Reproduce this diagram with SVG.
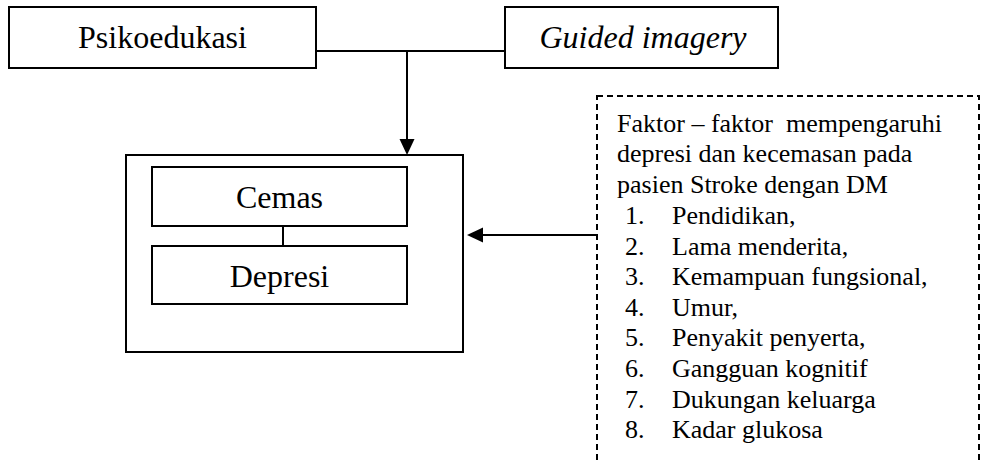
<svg xmlns="http://www.w3.org/2000/svg" width="985" height="464" viewBox="0 0 985 464">
<style>
text{font-family:Liberation Serif,serif !important}
</style>
<rect width="985" height="464" fill="#fff"/>
<g id="psikoedukasi">
<rect x="9" y="7" width="307" height="61" fill="#fff" stroke="#000" stroke-width="2"/>
<text x="162.5" y="48" text-anchor="middle" font-family="Liberation Serif" style="font-family:Liberation Serif !important" font-size="32">Psikoedukasi</text>
</g>
<g id="guided">
<rect x="505" y="7" width="273" height="61" fill="#fff" stroke="#000" stroke-width="2"/>
<text x="643" y="48" text-anchor="middle" font-style="italic" font-family="Liberation Serif" style="font-family:Liberation Serif !important" font-size="32">Guided imagery</text>
</g>
<g id="outer">
<rect x="126" y="155" width="337" height="197" fill="#fff" stroke="#000" stroke-width="2"/>
</g>
<g id="cemas">
<rect x="152" y="167" width="255" height="59" fill="#fff" stroke="#000" stroke-width="2"/>
<text x="279.5" y="208" text-anchor="middle" font-family="Liberation Serif" style="font-family:Liberation Serif !important" font-size="32">Cemas</text>
</g>
<g id="depresi">
<rect x="152" y="246" width="255" height="58" fill="#fff" stroke="#000" stroke-width="2"/>
<text x="279.5" y="287" text-anchor="middle" font-family="Liberation Serif" style="font-family:Liberation Serif !important" font-size="32">Depresi</text>
</g>
<g id="faktor">
<rect x="597" y="96" width="382" height="380" fill="none" stroke="#000" stroke-width="2" stroke-dasharray="6 4"/>
<text x="617" y="132" font-family="Liberation Serif" style="font-family:Liberation Serif !important" font-size="26">Faktor – faktor&#160; mempengaruhi</text>
<text x="617" y="162" font-family="Liberation Serif" style="font-family:Liberation Serif !important" font-size="26">depresi dan kecemasan pada</text>
<text x="617" y="193" font-family="Liberation Serif" style="font-family:Liberation Serif !important" font-size="26">pasien Stroke dengan DM</text>
<text x="625" y="224" font-family="Liberation Serif" style="font-family:Liberation Serif !important" font-size="26">1.</text><text x="672" y="224" font-family="Liberation Serif" style="font-family:Liberation Serif !important" font-size="26">Pendidikan,</text>
<text x="625" y="254.6" font-family="Liberation Serif" style="font-family:Liberation Serif !important" font-size="26">2.</text><text x="672" y="254.6" font-family="Liberation Serif" style="font-family:Liberation Serif !important" font-size="26">Lama menderita,</text>
<text x="625" y="285.2" font-family="Liberation Serif" style="font-family:Liberation Serif !important" font-size="26">3.</text><text x="672" y="285.2" font-family="Liberation Serif" style="font-family:Liberation Serif !important" font-size="26">Kemampuan fungsional,</text>
<text x="625" y="315.8" font-family="Liberation Serif" style="font-family:Liberation Serif !important" font-size="26">4.</text><text x="672" y="315.8" font-family="Liberation Serif" style="font-family:Liberation Serif !important" font-size="26">Umur,</text>
<text x="625" y="346.4" font-family="Liberation Serif" style="font-family:Liberation Serif !important" font-size="26">5.</text><text x="672" y="346.4" font-family="Liberation Serif" style="font-family:Liberation Serif !important" font-size="26">Penyakit penyerta,</text>
<text x="625" y="377" font-family="Liberation Serif" style="font-family:Liberation Serif !important" font-size="26">6.</text><text x="672" y="377" font-family="Liberation Serif" style="font-family:Liberation Serif !important" font-size="26">Gangguan kognitif</text>
<text x="625" y="407.6" font-family="Liberation Serif" style="font-family:Liberation Serif !important" font-size="26">7.</text><text x="672" y="407.6" font-family="Liberation Serif" style="font-family:Liberation Serif !important" font-size="26">Dukungan keluarga</text>
<text x="625" y="438.2" font-family="Liberation Serif" style="font-family:Liberation Serif !important" font-size="26">8.</text><text x="672" y="438.2" font-family="Liberation Serif" style="font-family:Liberation Serif !important" font-size="26">Kadar glukosa</text>
</g>
<g id="connectors" stroke="#000" stroke-width="2">
<line x1="316" y1="51" x2="505" y2="51"/>
<line x1="407" y1="51" x2="407" y2="140"/>
<path d="M399.5,139 L414.5,139 L407,155 Z" fill="#000" stroke="none"/>
<line x1="597" y1="235" x2="482" y2="235"/>
<path d="M483,227.5 L483,242.5 L467,235 Z" fill="#000" stroke="none"/>
<line x1="283" y1="226" x2="283" y2="246"/>
</g>
</svg>
